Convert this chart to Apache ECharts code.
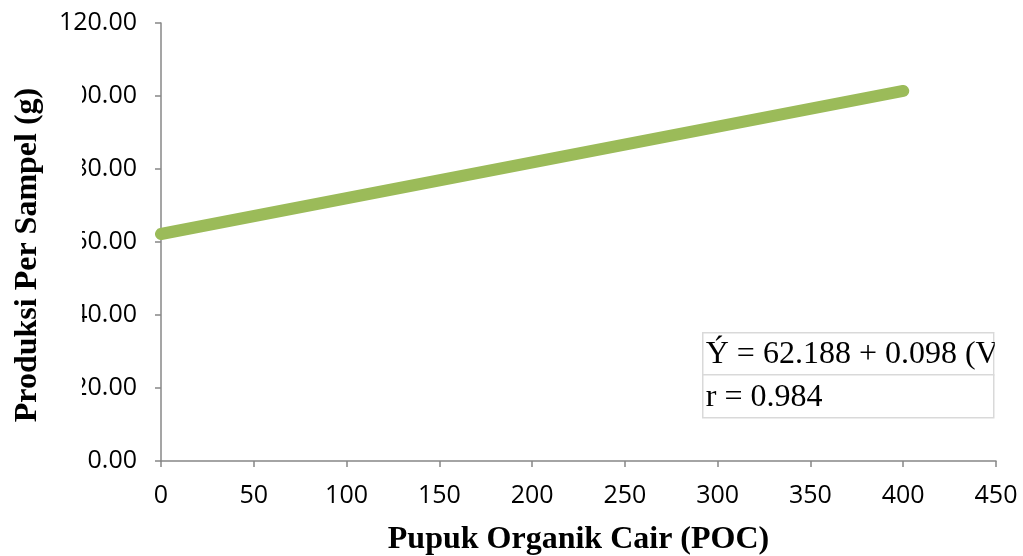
<!DOCTYPE html>
<html>
<head>
<meta charset="utf-8">
<script src="https://cdn.jsdelivr.net/npm/echarts@6/dist/echarts.min.js"></script>
<style>
  html, body { margin: 0; padding: 0; background: #fff; }
  #chart { width: 1023px; height: 556px; }
</style>
</head>
<body>
<div id="chart"></div>
<script>
// regression line (POC dose -> yield per sample)
const pocDose = [0, 400];
const yieldPerSample = [62.19, 101.39];
const equationLines = ['Ý = 62.188 + 0.098 (V)', 'r = 0.984'];
const yTitle = 'Produksi Per Sampel (g)';

const chart = echarts.init(document.getElementById('chart'));

const axisColor = '#878787';
const tickFont = { fontFamily: 'Open Sans', fontSize: 25, color: '#000' };
const titleFont = { fontFamily: 'Liberation Serif', fontSize: 32, fontWeight: 'bold', color: '#000' };

const option = {
  animation: false,
  grid: { left: 161, right: 27, top: 23, bottom: 95, containLabel: false, outerBoundsMode: 'none' },
  xAxis: {
    type: 'value',
    min: 0,
    max: 450,
    interval: 50,
    name: 'Pupuk Organik Cair (POC)',
    nameLocation: 'middle',
    nameGap: 63,
    nameTextStyle: titleFont,
    axisLine: { show: true, lineStyle: { color: axisColor, width: 1.5 } },
    axisTick: { show: true, length: 6, lineStyle: { color: axisColor, width: 1.5 } },
    axisLabel: Object.assign({ margin: 22 }, tickFont),
    splitLine: { show: false }
  },
  yAxis: {
    type: 'value',
    min: 0,
    max: 120,
    interval: 20,
    axisLine: { show: true, lineStyle: { color: axisColor, width: 1.5 } },
    axisTick: { show: true, length: 6, lineStyle: { color: axisColor, width: 1.5 } },
    axisLabel: Object.assign({
      margin: 24,
      formatter: function (v) { return v.toFixed(2); }
    }, tickFont),
    splitLine: { show: false }
  },
  series: [{
    type: 'line',
    data: pocDose.map(function (x, i) { return [x, yieldPerSample[i]]; }),
    showSymbol: false,
    symbol: 'none',
    lineStyle: { color: '#9BBB59', width: 12, cap: 'round' },
    z: 1
  }],
  graphic: [
    // y title box sits over the left part of the tick labels, as in the original
    { type: 'rect', z: 50, shape: { x: 0, y: 45, width: 82, height: 390 },
      style: { fill: '#fff' } },
    { type: 'text', z: 51, x: 28, y: 255, rotation: Math.PI / 2,
      style: { text: yTitle, font: 'bold 32px "Liberation Serif"', fill: '#000',
               textAlign: 'center', textVerticalAlign: 'middle' } },
    {
      type: 'group',
      left: 702,
      top: 332,
      z: 100,
      children: [
        { type: 'rect', shape: { x: 0, y: 0, width: 291, height: 42 },
          style: { fill: '#fff', stroke: '#d9d9d9', lineWidth: 1.5 } },
        { type: 'rect', shape: { x: 0, y: 42, width: 291, height: 43 },
          style: { fill: '#fff', stroke: '#d9d9d9', lineWidth: 1.5 } },
        { type: 'text', x: 3, y: 22,
          style: { text: equationLines[0], font: '32px "Liberation Serif"', fill: '#000',
                   textVerticalAlign: 'middle' } },
        { type: 'text', x: 3, y: 65,
          style: { text: equationLines[1], font: '32px "Liberation Serif"', fill: '#000',
                   textVerticalAlign: 'middle' } },
        // the first row is cut off at the box edge
        { type: 'rect', shape: { x: 292, y: 0, width: 40, height: 42 },
          style: { fill: '#fff' } }
      ]
    }
  ]
};

chart.setOption(option);
</script>
</body>
</html>
